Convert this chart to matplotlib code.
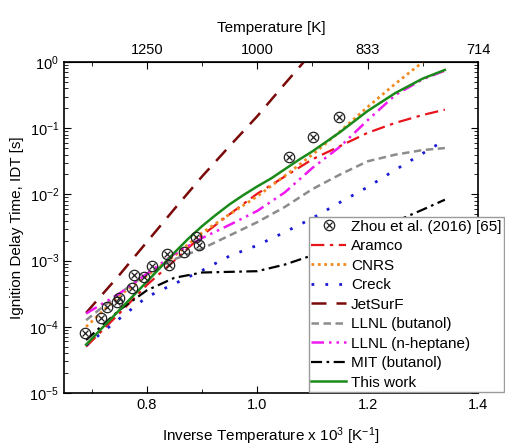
import matplotlib
matplotlib.use("Agg")
import matplotlib.pyplot as plt
import numpy as np
from matplotlib.ticker import FixedLocator, LogLocator, NullFormatter, FixedFormatter

plt.rcParams["font.family"] = ["Liberation Sans", "DejaVu Sans"]
plt.rcParams["mathtext.default"] = "regular"

# inverse temperature grid (1000/T) used by the model curves
x_model = [0.69, 0.75, 0.80, 0.85, 0.90, 0.95, 1.00, 1.05, 1.10, 1.15, 1.20, 1.25, 1.30, 1.34]

# log10(IDT [s])
log_aramco = [-4.30, -3.80, -3.37, -3.00, -2.62, -2.30, -1.99, -1.73, -1.47, -1.27, -1.07, -0.92, -0.80, -0.72]
log_cnrs = [-4.00, -3.53, -3.23, -2.93, -2.58, -2.30, -2.03, -1.72, -1.40, -1.05, -0.68, -0.33, 0.00, 0.25]
log_creck = [-4.28, -3.88, -3.55, -3.35, -3.15, -2.93, -2.77, -2.57, -2.36, -2.12, -1.89, -1.63, -1.38, -1.18]
log_jetsurf = [-3.79, -3.22, -2.72, -2.22, -1.73, -1.27, -0.82, -0.33, 0.15, 0.60, 1.00, 1.40, 1.80, 2.10]
log_llnl_but = [-3.90, -3.50, -3.20, -2.98, -2.82, -2.62, -2.42, -2.19, -1.92, -1.70, -1.50, -1.40, -1.33, -1.30]
log_llnl_hep = [-3.80, -3.50, -3.20, -2.90, -2.66, -2.46, -2.25, -1.97, -1.60, -1.28, -0.88, -0.50, -0.26, -0.13]
log_mit = [-4.20, -3.75, -3.45, -3.26, -3.18, -3.17, -3.16, -3.06, -2.92, -2.76, -2.59, -2.41, -2.23, -2.08]

# "This work" read on a finer grid around the bend
x_this = [0.69, 0.75, 0.80, 0.85, 0.875, 0.90, 0.925, 0.95, 0.975, 1.00, 1.025, 1.05,
          1.075, 1.10, 1.15, 1.20, 1.25, 1.30, 1.34]
log_this = [-4.27, -3.75, -3.32, -2.88, -2.67, -2.48, -2.31, -2.15, -2.01, -1.88, -1.76, -1.62,
            -1.48, -1.35, -1.06, -0.74, -0.47, -0.25, -0.12]

# Zhou et al. (2016) measurements
x_zhou = [0.688, 0.717, 0.728, 0.746, 0.750, 0.774, 0.777, 0.795, 0.810, 0.837, 0.841,
          0.868, 0.890, 0.895, 1.057, 1.101, 1.148]
log_zhou = [-4.09, -3.87, -3.70, -3.63, -3.57, -3.42, -3.22, -3.25, -3.08, -2.90, -3.07,
            -2.87, -2.64, -2.76, -1.435, -1.13, -0.83]

top_ticks = [0.8, 1.0, 1.2, 1.4]
top_labels = ["1250", "1000", "833", "714"]

fig = plt.figure(figsize=(5.06, 4.46), dpi=100)
ax = fig.add_axes([64 / 506, 53 / 446, 414 / 506, 331 / 446])

def p(v):
    return 10.0 ** np.asarray(v)

ax.plot(x_model, p(log_aramco), color="#e8141b", lw=1.6, ls=(0, (6, 2.5, 1.5, 2.5)), label="Aramco")
ax.plot(x_model, p(log_cnrs), color="#f28a1f", lw=2.0, ls=(0, (1, 1.3)), label="CNRS")
ax.plot(x_model, p(log_creck), color="#1a1ad6", lw=2.0, ls=(0, (1, 4)), label="Creck")
ax.plot(x_model, p(log_jetsurf), color="#7a0a0a", lw=1.8, ls=(0, (6, 4)), label="JetSurF")
ax.plot(x_model, p(log_llnl_but), color="#8c8c8c", lw=1.8, ls=(0, (3, 1.8)), label="LLNL (butanol)")
ax.plot(x_model, p(log_llnl_hep), color="#f019f0", lw=1.8, ls=(0, (5, 2, 1, 2, 1, 2)), label="LLNL (n-heptane)")
ax.plot(x_model, p(log_mit), color="black", lw=1.6, ls=(0, (5, 2, 1.2, 2)), label="MIT (butanol)")
ax.plot(x_this, p(log_this), color="#1a8a1a", lw=1.8, ls="-", label="This work")

h_o, = ax.plot(x_zhou, p(log_zhou), ls="none", marker="o", ms=7.5, mfc="none", mec="#222222", mew=0.9, zorder=5)
h_x, = ax.plot(x_zhou, p(log_zhou), ls="none", marker="x", ms=5, color="#222222", mew=0.9, zorder=5)

ax.set_yscale("log")
ax.set_xlim(0.65, 1.40)
ax.set_ylim(1e-5, 1e0)
ax.xaxis.set_major_locator(FixedLocator([0.8, 1.0, 1.2, 1.4]))
ax.xaxis.set_minor_locator(FixedLocator([0.7, 0.9, 1.1, 1.3]))
ax.xaxis.set_major_formatter(FixedFormatter(["0.8", "1.0", "1.2", "1.4"]))
ax.yaxis.set_major_locator(LogLocator(base=10, numticks=10))
ax.yaxis.set_minor_locator(LogLocator(base=10, subs=np.arange(2, 10), numticks=10))
ax.yaxis.set_minor_formatter(NullFormatter())
ax.tick_params(which="both", direction="in", right=True, labelsize=10.5)
ax.tick_params(which="major", length=5)
ax.tick_params(which="minor", length=3)
ax.set_xlabel("Inverse Temperature x 10$^3$ [K$^{-1}$]", fontsize=11, labelpad=10)
ax.set_ylabel("Ignition Delay Time, IDT [s]", fontsize=11)

top = ax.secondary_xaxis("top")
top.xaxis.set_major_locator(FixedLocator(top_ticks))
top.xaxis.set_major_formatter(FixedFormatter(top_labels))
top.xaxis.set_minor_locator(FixedLocator([0.7, 0.9, 1.1, 1.3]))
top.tick_params(which="both", direction="in", labelsize=10.5)
top.tick_params(which="major", length=5)
top.tick_params(which="minor", length=3)
top.set_xlabel("Temperature [K]", fontsize=11, labelpad=8)

for s in ax.spines.values():
    s.set_linewidth(1.2)

handles, labels = ax.get_legend_handles_labels()
handles = [(h_o, h_x)] + handles
labels = ["Zhou et al. (2016) [65]"] + labels
leg = fig.legend(handles, labels, loc="lower left", bbox_to_anchor=(309 / 506, 54 / 446),
                 bbox_transform=fig.transFigure, fontsize=11, handlelength=2.3,
                 labelspacing=0.36, borderpad=0.15, borderaxespad=0, handletextpad=0.3,
                 fancybox=False, framealpha=1, edgecolor="#9a9a9a")
leg.get_frame().set_linewidth(1.0)

fig.savefig("out.png", dpi=100)
